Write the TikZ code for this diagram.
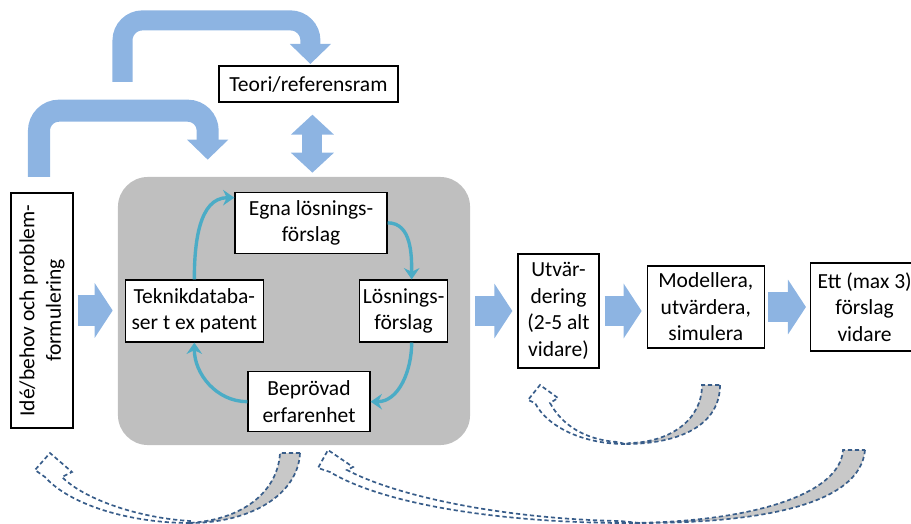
\documentclass[tikz,border=0pt]{standalone}
\usepackage{fontspec}
\setmainfont{Carlito}
\usepackage{xcolor}
\usepackage{tikz}
\usetikzlibrary{arrows.meta,positioning,calc}

\definecolor{arrowblue}{RGB}{141,180,226}
\definecolor{cycleteal}{RGB}{75,172,198}
\definecolor{panelgray}{RGB}{191,191,191}
\definecolor{dashnavy}{RGB}{56,93,138}
\definecolor{tailgray}{RGB}{200,200,200}

\begin{document}
\begin{tikzpicture}[
  x=0.025cm, y=0.025cm,
  every node/.style={font=\fontsize{15.3}{18.8}\selectfont},
  box/.style={draw, line width=0.9pt, fill=white, align=center, inner sep=1pt},
  panel/.style={fill=panelgray, rounded corners=0.75cm, minimum width=8.8cm, minimum height=6.7cm},
  flowarrow/.style={draw=arrowblue, line width=0.75cm,
    -{Triangle[width=1.35cm, length=0.45cm]}},
  bendarrow/.style={draw=arrowblue, rounded corners=0.5cm,
    -{Triangle[width=1cm, length=0.5cm]}},
  cyclearrow/.style={draw=cycleteal, line width=2.4pt,
    -{Stealth[length=8pt, width=11pt]}},
  tailback/.style={draw=dashnavy, fill=tailgray, line width=1.2pt, dash pattern=on 3pt off 2pt},
  tailfront/.style={draw=dashnavy, fill=white, line width=1.2pt, dash pattern=on 3pt off 2pt}
]
\useasboundingbox (0,0) rectangle (911,-524);

% grey work area with the four sources
\node[panel] (panel) at (294,-311) {};
\node[box, minimum width=3.8cm, minimum height=1.525cm, below=0.375cm of panel.north, xshift=0.425cm]
  (egna) {Egna lösnings-\\förslag};
\node[box, minimum width=3.45cm, minimum height=1.55cm, right=0.175cm of panel.west]
  (teknik) {Teknikdataba-\\ser t ex patent};
\node[box, minimum width=2.2cm, minimum height=1.55cm, left=0.55cm of panel.east]
  (losn) {Lösnings-\\förslag};
\node[box, minimum width=3.05cm, minimum height=1.5cm, above=0.325cm of panel.south, xshift=0.375cm]
  (bepr) {Beprövad\\erfarenhet};

% other boxes
\node[box, rotate=90, minimum width=5.875cm, minimum height=1.55cm] (ide) at (42,-310.5)
  {Idé/behov och problem-\\formulering};
\node[box, minimum width=4.475cm, minimum height=0.9cm, above=1.85cm of panel.north, xshift=0.36cm]
  (teori) {Teori/referensram};
\node[box, minimum width=2.025cm, minimum height=2.85cm, right=1.175cm of panel]
  (utv) {Utvär-\\dering\\(2-5 alt\\vidare)};
\node[box, minimum width=2.925cm, minimum height=2.05cm, right=1.175cm of utv, yshift=0.1cm]
  (modell) {Modellera,\\utvärdera,\\simulera};
\node[box, minimum width=2.7cm, minimum height=2.2cm, right=1.125cm of modell]
  (ett) {Ett (max 3)\\förslag\\vidare};

% block arrows
\draw[flowarrow, shorten <=0.1cm, shorten >=0.125cm] (ide.south) -- (ide.south -| panel.west);
\draw[flowarrow, shorten <=0.125cm, shorten >=0.125cm] (panel.east) -- (utv.west);
\draw[flowarrow, shorten <=0.125cm, shorten >=0.125cm] (utv.east) -- (utv.east -| modell.west);
\draw[flowarrow, shorten <=0.075cm, shorten >=0.1cm] (modell.east) -- (modell.east -| ett.west);

\coordinate (tailA) at (122.5,-82);
\coordinate (tailB) at (39,-177);
\coordinate (tipB) at ($(panel.north west)+(90,17)$);
\draw[bendarrow, line width=0.5cm, shorten >=1] (tailA) |- ($(teori.north)+(2,45)$) -- ($(teori.north)+(2,0)$);
\draw[bendarrow, line width=0.55cm] (tailB) |- ($(tipB)+(0,49)$) -- (tipB);
\draw[draw=arrowblue, line width=0.5cm, {Triangle[width=1.05cm, length=0.5cm]}-{Triangle[width=1.05cm, length=0.5cm]},
  shorten <=0.3cm, shorten >=0.1cm] ($(teori.south)+(4,0)$) -- ($(teori.south |- panel.north)+(4,0)$);

% cycle inside the grey area
\draw[cyclearrow] (teknik.north) to[out=90, in=180] ($(egna.north west)+(0,-6)$);
\draw[cyclearrow] (egna.east) to[out=0, in=90] ($(losn.north)+(8,0)$);
\draw[cyclearrow] ($(losn.south)+(8,0)$) to[out=-90, in=0] (bepr.east);
\draw[cyclearrow] (bepr.west) to[out=180, in=-90] (teknik.south);

% dashed feedback arrows
\filldraw[tailback] (300,-453) .. controls (298,-495) and (250,-523) .. (190,-523)
  -- (188,-523) .. controls (245,-520) and (278,-490) .. (280,-453) -- cycle;
\filldraw[tailfront] (190,-523) .. controls (130,-523) and (70,-505) .. (45,-477)
  -- (35,-470) -- (50,-453) -- (72,-472) -- (62,-477)
  .. controls (85,-500) and (140,-518) .. (190,-521) -- cycle;

\filldraw[tailback] (865,-450) .. controls (860,-505) and (760,-523) .. (640,-523)
  -- (630,-523) .. controls (750,-522) and (840,-495) .. (843,-450) -- cycle;
\filldraw[tailfront] (640,-523) .. controls (520,-524) and (390,-508) .. (330,-472)
  -- (318,-468) -- (328,-450) -- (353,-467) -- (347,-470)
  .. controls (400,-498) and (510,-519) .. (620,-521) -- cycle;

\filldraw[tailback] (720,-385) .. controls (720,-425) and (680,-444) .. (625,-444)
  -- (630,-443) .. controls (670,-442) and (702,-420) .. (702,-385) -- cycle;
\filldraw[tailfront] (625,-444) .. controls (585,-444) and (548,-428) .. (535,-403)
  -- (528,-400) -- (540,-385) -- (558,-398) -- (550,-403)
  .. controls (562,-425) and (585,-440) .. (618,-442) -- cycle;
\end{tikzpicture}
\end{document}
